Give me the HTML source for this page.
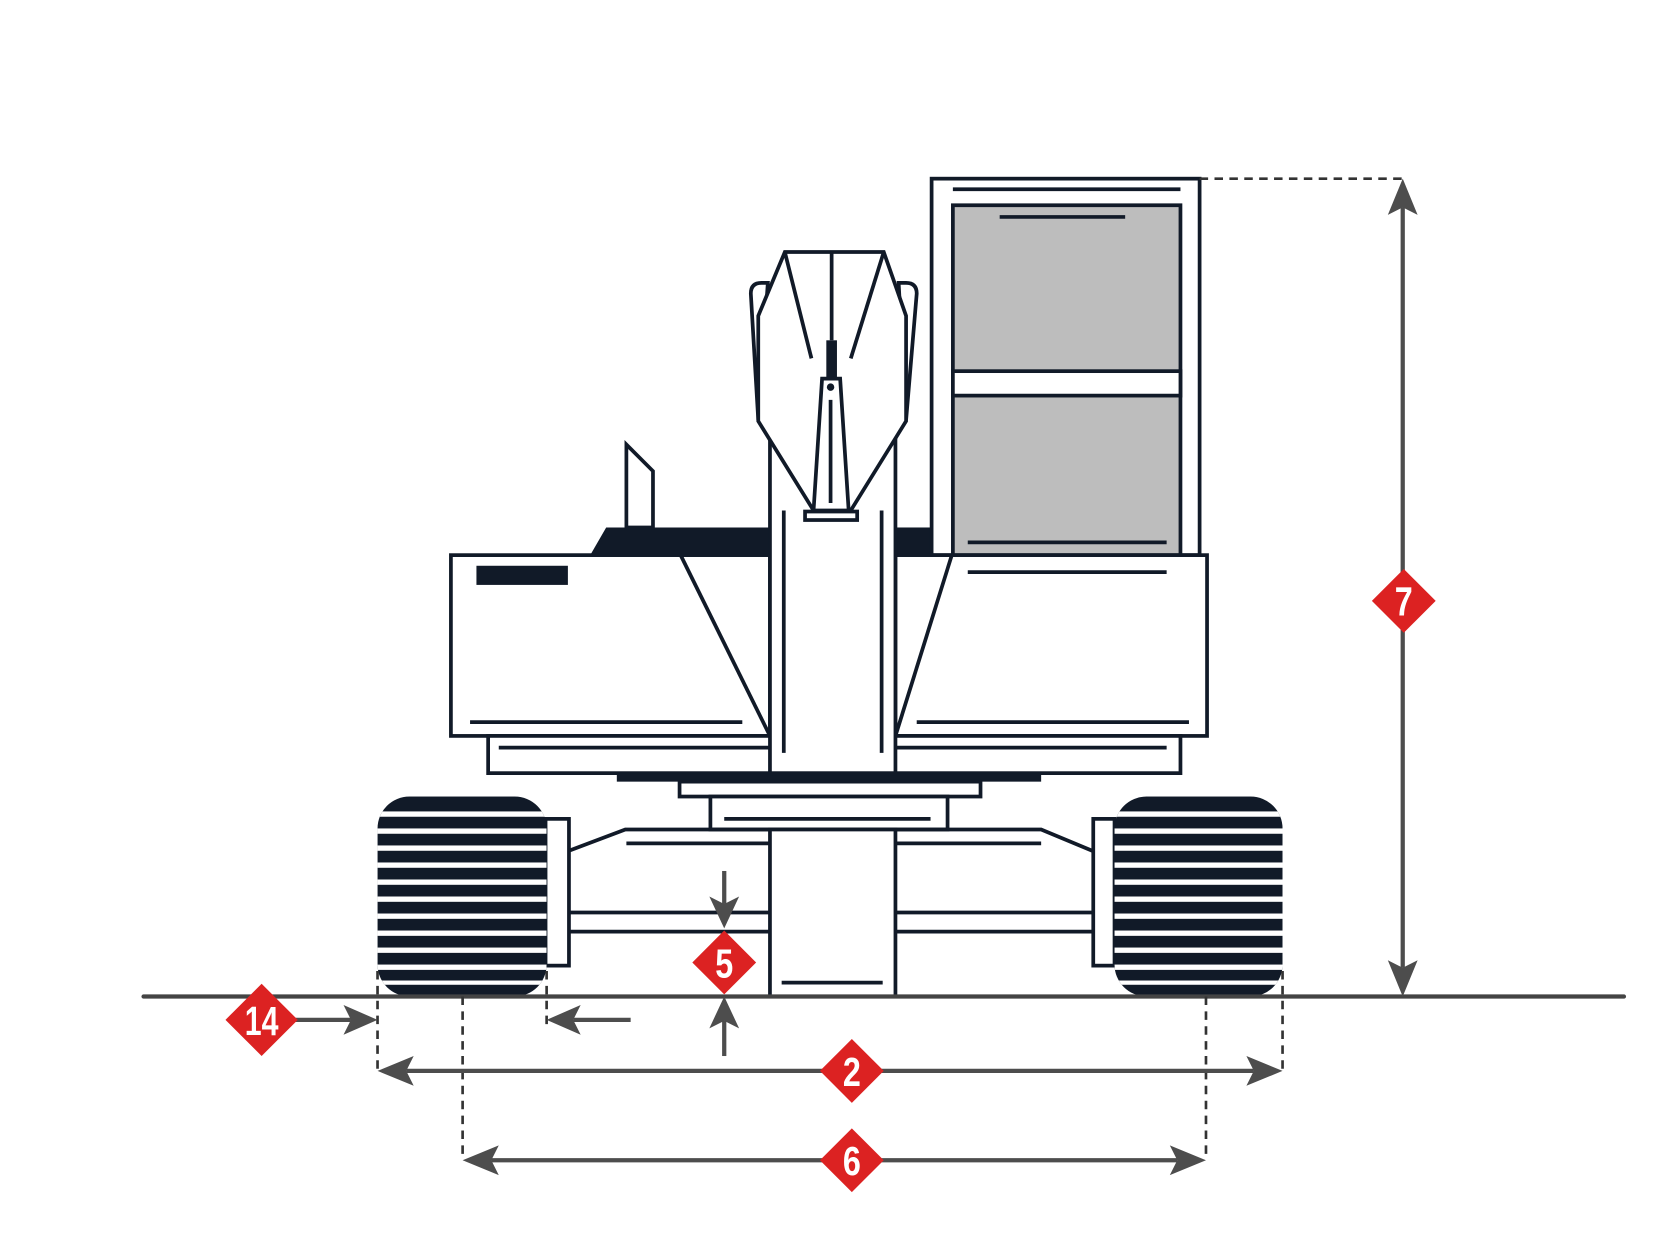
<!DOCTYPE html>
<html><head><meta charset="utf-8"><style>
html,body{margin:0;padding:0;background:#fff;}
svg{display:block;}
.n{fill:none;stroke:#111a28;stroke-width:3.5;}
.w{fill:#fff;stroke:#111a28;stroke-width:3.5;}
.d{fill:#111a28;}
.g{stroke:#4d4d4d;stroke-width:4;fill:none;}
.ga{fill:#4d4d4d;}
.ds{stroke:#333;stroke-width:2.5;stroke-dasharray:8 6;fill:none;}
.t{font-family:"Liberation Sans",sans-serif;font-weight:bold;font-size:38px;fill:#fff;}
</style></head><body>
<svg width="1667" height="1250" viewBox="0 0 1567.5 1175.4" preserveAspectRatio="none">
<defs>
<clipPath id="trL"><rect x="355" y="749" width="159" height="188" rx="30"/></clipPath>
<clipPath id="trR"><rect x="1048" y="749" width="158" height="188" rx="30"/></clipPath>
</defs>
<!-- counterweight band -->
<polygon class="d" points="555,522 570,496 724,496 724,522"/>
<rect class="d" x="842" y="496" width="34" height="26"/>
<polygon class="w" points="589,418 589,496 614,496 614,443"/>
<!-- cab -->
<rect class="w" x="876" y="168" width="252" height="354"/>
<line class="n" x1="896" y1="178" x2="1110" y2="178"/>
<rect x="896" y="193" width="214" height="329" fill="#bdbdbd" stroke="#111a28" stroke-width="3.5"/>
<rect class="w" x="896" y="349" width="214" height="23"/>
<line class="n" x1="940" y1="204" x2="1058" y2="204"/>
<line class="n" x1="910" y1="510" x2="1097" y2="510"/>
<!-- bodies -->
<rect class="w" x="424" y="522" width="300" height="170"/>
<rect class="d" x="448" y="532" width="86" height="18"/>
<line class="n" x1="442" y1="679" x2="698" y2="679"/>
<line class="n" x1="640" y1="522" x2="724" y2="692"/>
<rect class="w" x="842" y="522" width="293" height="170"/>
<line class="n" x1="910" y1="538" x2="1097" y2="538"/>
<line class="n" x1="862" y1="679" x2="1118" y2="679"/>
<line class="n" x1="895" y1="522" x2="842" y2="692"/>
<rect class="w" x="459" y="692" width="651" height="35"/>
<line class="n" x1="469" y1="703" x2="1097" y2="703"/>
<rect class="d" x="580" y="727" width="399" height="8"/>
<!-- boom column -->
<rect class="w" x="724" y="410" width="118" height="317"/>
<line class="n" x1="737" y1="480" x2="737" y2="708"/>
<line class="n" x1="829" y1="480" x2="829" y2="708"/>
<!-- boom head -->
<path class="w" d="M722,266 L716,266 Q706,266 706,276 L713,395 Z"/>
<path class="w" d="M845,266 L852,266 Q862,266 862,276 L852,395 Z"/>
<polygon class="w" points="738,237 831,237 852,297 852,396 800,480 765,480 713,396 713,297"/>
<line class="n" x1="738" y1="237" x2="763" y2="337"/>
<line class="n" x1="831" y1="237" x2="800" y2="337"/>
<line class="n" x1="782" y1="237" x2="782" y2="320"/>
<rect class="d" x="777" y="320" width="10" height="36"/>
<polygon class="w" points="773,356 790,356 798,480 765,480"/>
<circle class="d" cx="781" cy="364" r="3.5"/>
<line class="n" x1="781" y1="376" x2="781" y2="473"/>
<rect class="w" x="757" y="481" width="49" height="8"/>
<!-- slewing ring -->
<rect class="w" x="639" y="735" width="283" height="14"/>
<rect class="w" x="668" y="749" width="223" height="31"/>
<line class="n" x1="681" y1="770" x2="875" y2="770"/>
<!-- carbody -->
<polyline class="n" points="535,800 588,780 979,780 1027,800"/>
<line class="n" x1="589" y1="793" x2="724" y2="793"/>
<line class="n" x1="842" y1="793" x2="979" y2="793"/>
<line class="n" x1="535" y1="858" x2="724" y2="858"/>
<line class="n" x1="535" y1="876" x2="724" y2="876"/>
<line class="n" x1="842" y1="858" x2="1028" y2="858"/>
<line class="n" x1="842" y1="876" x2="1028" y2="876"/>
<rect class="w" x="724" y="780" width="118" height="157"/>
<line class="n" x1="735" y1="924" x2="830" y2="924"/>
<rect class="w" x="513" y="770" width="22" height="138"/>
<rect class="w" x="1028" y="770" width="20" height="138"/>
<!-- tracks -->
<g clip-path="url(#trL)"><rect class="d" x="355" y="749" width="159" height="188"/>
<g fill="#fff">
<rect x="355" y="763" width="159" height="5"/><rect x="355" y="779" width="159" height="5"/><rect x="355" y="795" width="159" height="5"/><rect x="355" y="811" width="159" height="5"/><rect x="355" y="827" width="159" height="5"/><rect x="355" y="843" width="159" height="5"/><rect x="355" y="859" width="159" height="5"/><rect x="355" y="875" width="159" height="5"/><rect x="355" y="891" width="159" height="5"/><rect x="355" y="907" width="159" height="5"/><rect x="355" y="922" width="159" height="4"/>
</g></g>
<g clip-path="url(#trR)"><rect class="d" x="1048" y="749" width="158" height="188"/>
<g fill="#fff">
<rect x="1048" y="763" width="158" height="5"/><rect x="1048" y="779" width="158" height="5"/><rect x="1048" y="795" width="158" height="5"/><rect x="1048" y="811" width="158" height="5"/><rect x="1048" y="827" width="158" height="5"/><rect x="1048" y="843" width="158" height="5"/><rect x="1048" y="859" width="158" height="5"/><rect x="1048" y="875" width="158" height="5"/><rect x="1048" y="891" width="158" height="5"/><rect x="1048" y="907" width="158" height="5"/><rect x="1048" y="922" width="158" height="4"/>
</g></g>
<!-- ground -->
<line x1="135" y1="937" x2="1527" y2="937" stroke="#444" stroke-width="4" stroke-linecap="round"/>
<!-- dashed -->
<line class="ds" x1="1128" y1="168" x2="1319" y2="168"/>
<line class="ds" x1="355" y1="913" x2="355" y2="1007"/>
<line class="ds" x1="514" y1="913" x2="514" y2="966"/>
<line class="ds" x1="1206" y1="913" x2="1206" y2="1007"/>
<line class="ds" x1="435" y1="937" x2="435" y2="1091"/>
<line class="ds" x1="1134" y1="937" x2="1134" y2="1091"/>
<!-- dim 7 -->
<line class="g" x1="1319" y1="195" x2="1319" y2="910"/>
<polygon class="ga" points="1319,168 1305,202 1319,195 1333,202"/>
<polygon class="ga" points="1319,937 1305,903 1319,910 1333,903"/>
<!-- dim 5 -->
<line class="g" x1="681" y1="819" x2="681" y2="850"/>
<polygon class="ga" points="681,873 667,843 681,850 695,843"/>
<line class="g" x1="681" y1="960" x2="681" y2="993"/>
<polygon class="ga" points="681,937 667,967 681,960 695,967"/>
<!-- dim 14 -->
<line class="g" x1="275" y1="959" x2="330" y2="959"/>
<polygon class="ga" points="355,959 323,945 330,959 323,973"/>
<line class="g" x1="539" y1="959" x2="593" y2="959"/>
<polygon class="ga" points="514,959 546,945 539,959 546,973"/>
<!-- dim 2 -->
<line class="g" x1="382" y1="1007" x2="1179" y2="1007"/>
<polygon class="ga" points="355,1007 389,993 382,1007 389,1021"/>
<polygon class="ga" points="1206,1007 1172,993 1179,1007 1172,1021"/>
<!-- dim 6 -->
<line class="g" x1="462" y1="1091" x2="1107" y2="1091"/>
<polygon class="ga" points="435,1091 469,1077 462,1091 469,1105"/>
<polygon class="ga" points="1134,1091 1100,1077 1107,1091 1100,1105"/>
<!-- diamonds -->
<g fill="#dc2222">
<polygon points="1320,535 1350,565 1320,595 1290,565"/>
<polygon points="681,875 711,905 681,935 651,905"/>
<polygon points="246,925 280,959 246,993 212,959"/>
<polygon points="801,977 831,1007 801,1037 771,1007"/>
<polygon points="801,1061 831,1091 801,1121 771,1091"/>
</g>
<g class="t" text-anchor="middle">
<text transform="translate(1320,579) scale(0.8,1)">7</text>
<text transform="translate(681,919) scale(0.8,1)">5</text>
<text transform="translate(246,973) scale(0.75,1)">14</text>
<text transform="translate(801,1021) scale(0.8,1)">2</text>
<text transform="translate(801,1105) scale(0.8,1)">6</text>
</g>
</svg>
</body></html>
